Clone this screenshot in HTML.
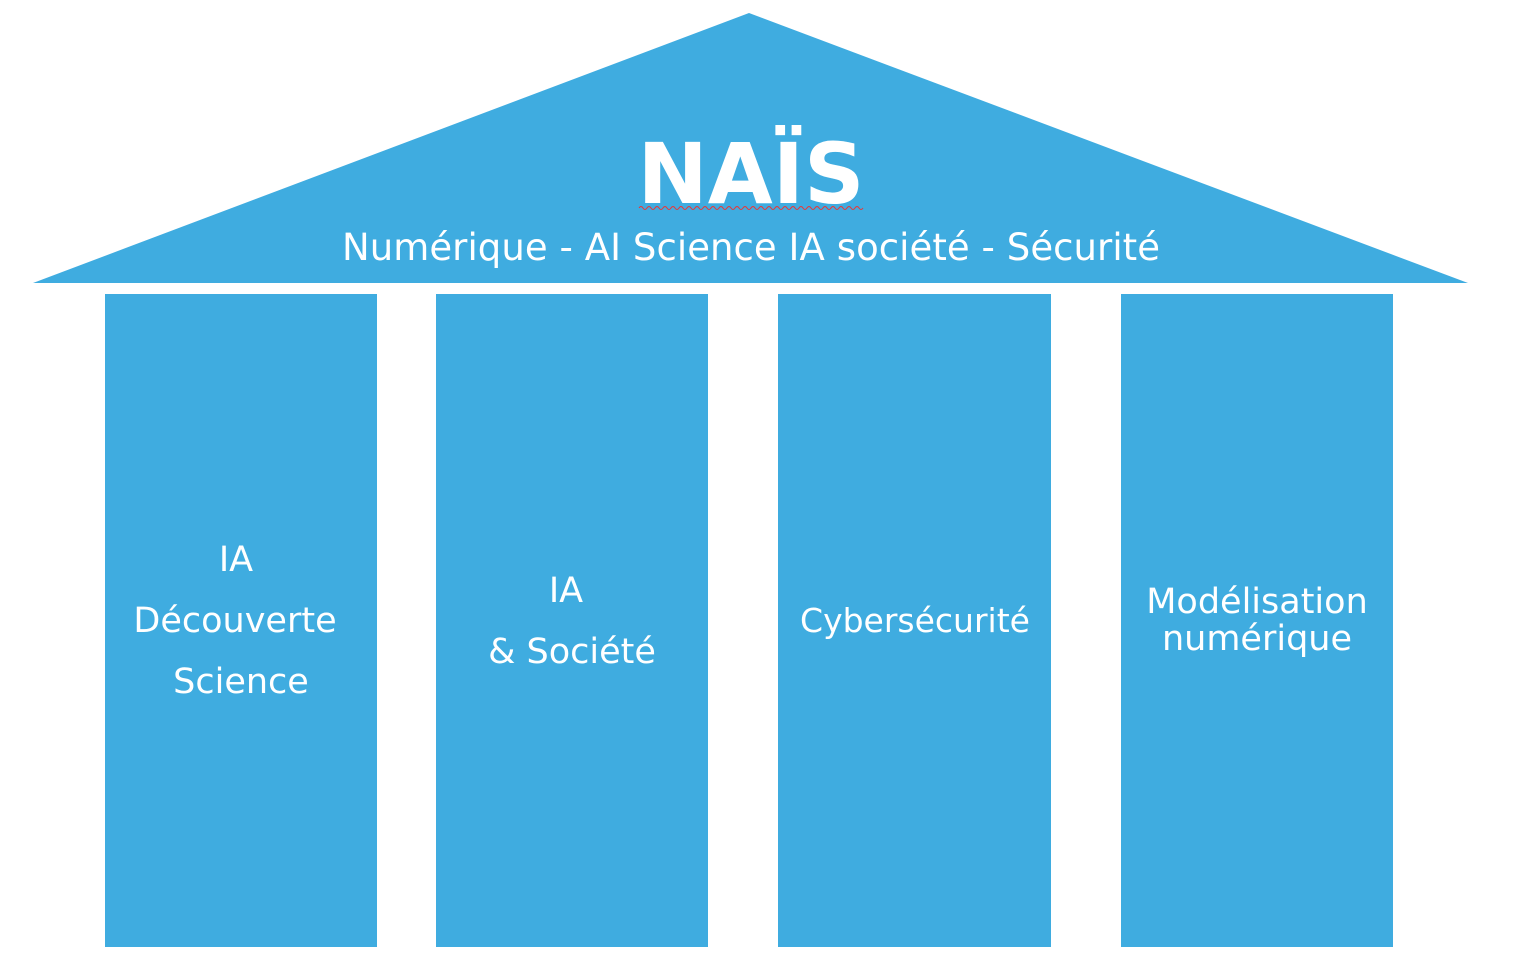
<!DOCTYPE html>
<html><head><meta charset="utf-8"><style>
html,body{margin:0;padding:0;background:#fff;}
svg{display:block;}
text{font-family:"DejaVu Sans","Liberation Sans",sans-serif;fill:#fff;}
</style></head><body>
<svg width="1520" height="979" viewBox="0 0 1520 979" xmlns="http://www.w3.org/2000/svg">
<polygon points="749,13 1468,283 33,283" fill="#3FACE0"/>
<rect x="105" y="294" width="272" height="653" fill="#3FACE0"/>
<rect x="436" y="294" width="272" height="653" fill="#3FACE0"/>
<rect x="778" y="294" width="273" height="653" fill="#3FACE0"/>
<rect x="1121" y="294" width="272" height="653" fill="#3FACE0"/>
<text x="751" y="203" text-anchor="middle" font-size="84" font-weight="bold">NAÏS</text>
<path d="M639,208 q2,-3 4,0 t4,0 t4,0 t4,0 t4,0 t4,0 t4,0 t4,0 t4,0 t4,0 t4,0 t4,0 t4,0 t4,0 t4,0 t4,0 t4,0 t4,0 t4,0 t4,0 t4,0 t4,0 t4,0 t4,0 t4,0 t4,0 t4,0 t4,0 t4,0 t4,0 t4,0 t4,0 t4,0 t4,0 t4,0 t4,0 t4,0 t4,0 t4,0 t4,0 t4,0 t4,0 t4,0 t4,0 t4,0 t4,0 t4,0 t4,0 t4,0 t4,0 t4,0 t4,0 t4,0 t4,0 t4,0 t4,0" stroke="#e33" stroke-width="1" fill="none"/>
<text x="751" y="260" text-anchor="middle" font-size="37" textLength="818">Numérique - AI Science IA société - Sécurité</text>
<g font-size="35" text-anchor="middle">
<text x="236" y="571">IA</text>
<text x="235" y="632">Découverte</text>
<text x="241" y="693">Science</text>
<text x="566" y="602">IA</text>
<text x="572" y="663">&amp; Société</text>
<text x="915" y="632" font-size="33">Cybersécurité</text>
<text x="1257" y="613">Modélisation</text>
<text x="1257" y="650">numérique</text>
</g>
</svg>
</body></html>
